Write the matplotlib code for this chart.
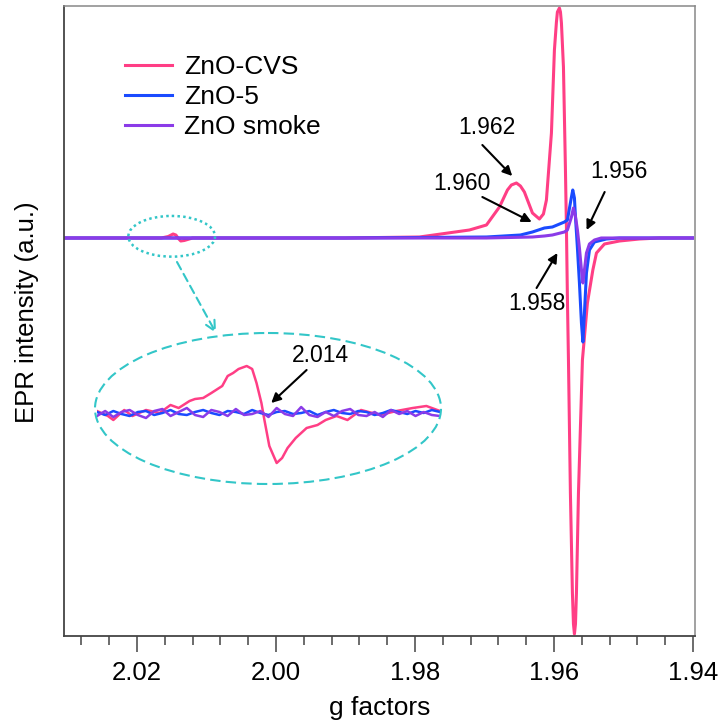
import numpy as np
import matplotlib.pyplot as plt
from matplotlib.patches import Ellipse, FancyArrowPatch
from matplotlib.ticker import MultipleLocator

plt.rcParams['font.family'] = ['Liberation Sans', 'DejaVu Sans']

# main spectra (g factor, intensity a.u.)
cvs_g = [2.0305, 2.0250, 2.0200, 2.0165, 2.0155, 2.0148, 2.0144, 2.0141, 2.0137, 2.0132,
         2.0120, 2.0000, 1.9900, 1.9850, 1.97935, 1.97216, 1.96971, 1.96784, 1.96669, 1.96612,
         1.96540, 1.96482, 1.96425, 1.96309, 1.96209, 1.96151, 1.96108, 1.96036, 1.95993, 1.95964,
         1.95950, 1.95921, 1.95906, 1.95892, 1.95863, 1.95835, 1.95820, 1.95806, 1.95791, 1.95763,
         1.95734, 1.95719, 1.95705, 1.95690, 1.95676, 1.95647, 1.95590, 1.95518, 1.95440, 1.95388,
         1.95273, 1.95057, 1.94770, 1.94482, 1.94007]
cvs_i = [0, 0, 0, 0, 1.5, 4, 3, 0, -3, -2.5,
         0, 0, 0, 0.5, 1, 8, 13, 31, 48, 53,
         55, 52, 46, 25, 19, 24, 38, 105, 188, 216,
         226, 230, 226, 215, 171, 71, 10, -60, -122, -255,
         -355, -386, -396, -386, -355, -255, -122, -65, -32, -15,
         -6, -3, -1, 0, 0]

zno5_g = [2.0305, 1.9900, 1.97935, 1.96971, 1.96482, 1.96309, 1.96137, 1.96022, 1.95849, 1.95806,
          1.95748, 1.95729, 1.95705, 1.95691, 1.95662, 1.95633, 1.95604, 1.95583, 1.95561, 1.95532,
          1.95489, 1.95417, 1.95245, 1.95057, 1.94007]
zno5_i = [0, 0, 0.5, 1, 3, 6, 10, 11, 16, 18,
          41, 48, 40, 22, -10, -45, -85, -104, -75, -35,
          -12, -4, -1, 0, 0]

smoke_g = [2.0305, 1.9900, 1.96971, 1.96309, 1.96137, 1.96022, 1.95849, 1.95806, 1.95748, 1.95720,
           1.95691, 1.95662, 1.95633, 1.95604, 1.95583, 1.95561, 1.95532, 1.95489, 1.95417, 1.95320,
           1.94007]
smoke_i = [0, 0, 0, 1, 2, 3, 6, 8, 21, 30,
           22, 8, -10, -32, -45, -32, -15, -6, -2, 0,
           0]

# magnified view around g = 2.014
zoom_cvs_g = [2.0202, 2.0198, 2.0196, 2.0192, 2.0189, 2.0184, 2.0179, 2.0175, 2.0172, 2.0168,
              2.0166, 2.0163, 2.0160, 2.0156, 2.0154, 2.0152, 2.0150, 2.0147, 2.0145, 2.01434,
              2.01416, 2.01405, 2.01387, 2.0136, 2.0134, 2.0132, 2.0129, 2.0125, 2.0121, 2.0118,
              2.0114, 2.0110, 2.0105, 2.0098, 2.0092, 2.0086, 2.0081, 2.0076]
zoom_cvs_i = [2, -3, -7, 3, -3, 3, 0, 8, 5, 12,
              14, 15, 20, 27, 37, 40, 44, 47, 44, 30,
              10, -7, -33, -50, -45, -35, -25, -15, -12, -7,
              -3, -7, 3, -2, 2, 5, 7, 2]

zoom_g = [2.0202, 2.0199, 2.0196, 2.0193, 2.0190, 2.0187, 2.0184, 2.0181, 2.0178, 2.0175,
          2.0172, 2.0169, 2.0166, 2.0163, 2.0160, 2.0157, 2.0154, 2.0151, 2.0148, 2.0145,
          2.0142, 2.0139, 2.0136, 2.0133, 2.0130, 2.0127, 2.0124, 2.0121, 2.0118, 2.0115,
          2.0112, 2.0109, 2.0106, 2.0103, 2.0100, 2.0097, 2.0094, 2.0091, 2.0088, 2.0085,
          2.0082, 2.0079, 2.0076]
zoom_zno5_i = [1, -2, 2, -1, -3, 1, 2, -2, 0, 3, -1, -2, 1, 3, 0, -2, 2, 1, -1, 3, 0, -2,
               1, 2, -1, 0, 2, -2, 1, 3, 0, -1, 2, 1, -2, 0, 3, 1, -1, 2, 0, 3, 1]
zoom_smoke_i = [-3, 2, -4, 1, 3, -2, -5, 2, 4, -3, 1, 5, -2, -4, 3, 1, -3, 4, -2, -1, 2, -4,
                5, -1, -3, 6, -2, -4, 1, -3, 2, 4, -2, -3, 1, -4, 3, -1, 2, -3, 1, -2, -3]

labels = ['ZnO-CVS', 'ZnO-5', 'ZnO smoke']
colors = ['#FF3E85', '#1A4BFF', '#8B3BE8']
cyan = '#33C6C8'

fig = plt.figure(figsize=(7.19, 7.24), dpi=100)
ax = fig.add_axes([64 / 719, 1 - 636 / 724, 631 / 719, 630 / 724])

for g, y, c, lab in zip([cvs_g, zno5_g, smoke_g], [cvs_i, zno5_i, smoke_i], colors, labels):
    ax.plot(g, y, color=c, lw=2.2, label=lab)

ax.set_xlim(2.0305, 1.9397)
ax.set_ylim(-398, 232)
ax.xaxis.set_major_locator(MultipleLocator(0.02))
ax.xaxis.set_minor_locator(MultipleLocator(0.004))
ax.xaxis.set_major_formatter(plt.FormatStrFormatter('%.2f'))
ax.set_yticks([])
ax.tick_params(axis='x', which='major', direction='out', length=11.5, width=1.1,
               color='#444444', labelsize=18.5, pad=6.5)
ax.tick_params(axis='x', which='minor', direction='out', length=6.5, width=1.1, color='#444444')
for side in ['left', 'bottom']:
    ax.spines[side].set_color('#444444')
    ax.spines[side].set_linewidth(1.3)
for side in ['top', 'right']:
    ax.spines[side].set_color('#888888')
    ax.spines[side].set_linewidth(1.1)
ax.set_xlabel('g factors', fontsize=19, labelpad=8)
ax.set_ylabel('EPR intensity (a.u.)', fontsize=18.5)
ax.yaxis.set_label_coords(-0.040, 0.514)

ax.legend(frameon=False, loc='upper left', bbox_to_anchor=(0.0967, 0.922), fontsize=19,
          handlelength=1.78, handletextpad=0.45, labelspacing=0.23, borderpad=0, borderaxespad=0)

# peak labels
arrow_kw = dict(arrowstyle='-|>', color='black', lw=1.5, mutation_scale=14, shrinkA=0, shrinkB=0)
peak_notes = [
    ('1.962', (1.9697, 111), (1.9703, 93), (1.9660, 62)),
    ('1.960', (1.9732, 55), (1.9703, 41), (1.9632, 16)),
    ('1.956', (1.9506, 67), (1.9527, 46), (1.9553, 8)),
    ('1.958', (1.9625, -65), (1.9625, -50), (1.9595, -15)),
]
for txt, pos, tail, tip in peak_notes:
    ax.text(pos[0], pos[1], txt, fontsize=16.5, ha='center', va='center')
    ax.annotate('', xy=tip, xytext=tail, arrowprops=arrow_kw)

# magnified inset
axin = fig.add_axes([97 / 719, 1 - 483 / 724, 343 / 719, 140 / 724])
axin.set_facecolor('none')
axin.plot(zoom_cvs_g, zoom_cvs_i, color=colors[0], lw=1.8)
axin.plot(zoom_g, zoom_zno5_i, color=colors[1], lw=1.8)
axin.plot(zoom_g, zoom_smoke_i, color=colors[2], lw=1.8)
axin.set_xlim(2.0202, 2.0076)
axin.set_ylim(-70, 70)
axin.axis('off')
axin.text(2.0120, 58, '2.014', fontsize=16.5, ha='center', va='center')
axin.annotate('', xy=(2.0138, 10), xytext=(2.0125, 43), arrowprops=arrow_kw)

# ellipses and connector, in pixel coordinates
deco = fig.add_axes([0, 0, 1, 1])
deco.set_xlim(0, 719)
deco.set_ylim(724, 0)
deco.axis('off')
deco.set_facecolor('none')
deco.add_patch(Ellipse((171.7, 236.3), 86.7, 40.7, fill=False, ec=cyan, lw=1.8,
                       linestyle=(0, (1, 1.3))))
deco.add_patch(Ellipse((268, 408.5), 346, 151, fill=False, ec=cyan, lw=1.5,
                       linestyle=(0, (5, 2.5))))
deco.add_patch(FancyArrowPatch((177, 262), (216, 333), arrowstyle='->', color=cyan, lw=1.5,
                               linestyle=(0, (4, 2.5)), mutation_scale=18, shrinkA=0, shrinkB=0))

fig.savefig('out.png', dpi=100)
